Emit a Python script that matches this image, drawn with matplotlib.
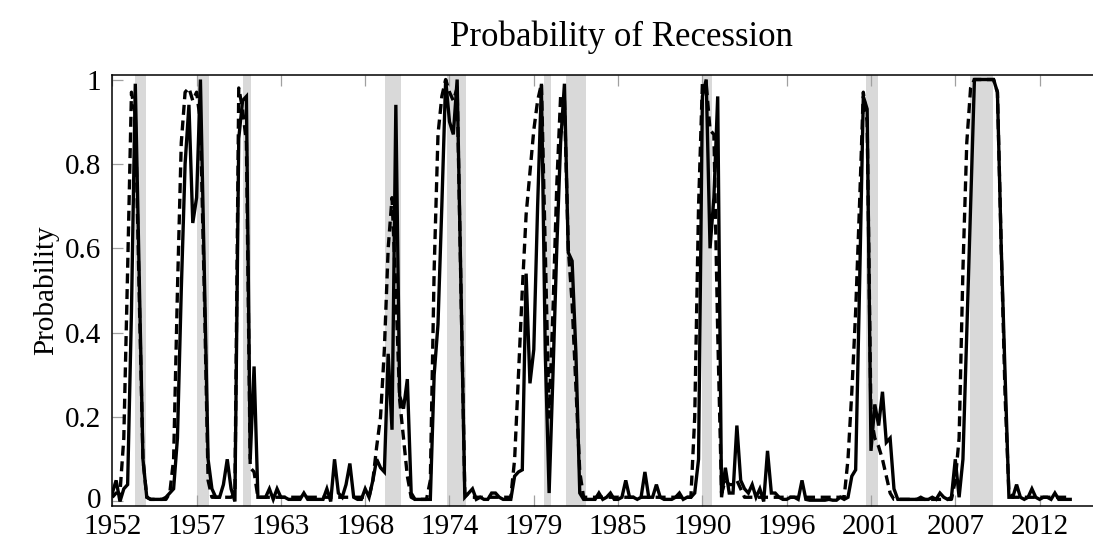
import numpy as np
import matplotlib
matplotlib.use("Agg")
import matplotlib.pyplot as plt

# Quarterly recession probabilities, 1952Q1 onwards
prob_solid = [
    0.02, 0.05, 0.00, 0.03, 0.04, 0.45, 0.99, 0.55, 0.10, 0.01,    # 1952-1954
    0.005, 0.005, 0.005, 0.005, 0.01, 0.02, 0.03, 0.15, 0.50, 0.80,
    0.94, 0.66, 0.72, 1.00, 0.55, 0.10, 0.03, 0.01, 0.01, 0.04,    # 1957-1959
    0.10, 0.03, 0.00, 0.86, 0.95, 0.96, 0.10, 0.32, 0.01, 0.01,
    0.01, 0.03, 0.005, 0.03, 0.01, 0.01, 0.005, 0.005, 0.005, 0.005,
    0.02, 0.005, 0.005, 0.005, 0.005, 0.005, 0.03, 0.00, 0.10, 0.02,
    0.01, 0.04, 0.09, 0.01, 0.005, 0.005, 0.03, 0.01, 0.05, 0.10,  # 1967-1969
    0.08, 0.07, 0.35, 0.17, 0.94, 0.25, 0.22, 0.29, 0.02, 0.005,
    0.005, 0.005, 0.005, 0.005, 0.30, 0.42, 0.70, 1.00, 0.90, 0.87,  # 1972-1974
    1.00, 0.50, 0.01, 0.02, 0.03, 0.005, 0.01, 0.005, 0.005, 0.02,
    0.02, 0.01, 0.005, 0.005, 0.005, 0.06, 0.07, 0.075, 0.54, 0.28,  # 1977-1979
    0.36, 0.70, 0.99, 0.35, 0.02, 0.30, 0.60, 0.85, 0.99, 0.59,
    0.57, 0.35, 0.02, 0.005, 0.005, 0.005, 0.005, 0.02, 0.005, 0.01,  # 1982-1984
    0.02, 0.005, 0.005, 0.01, 0.05, 0.01, 0.01, 0.005, 0.01, 0.07,
    0.01, 0.01, 0.04, 0.01, 0.005, 0.005, 0.005, 0.01, 0.02, 0.005,  # 1987-1989
    0.01, 0.01, 0.02, 0.10, 0.96, 1.00, 0.60, 0.72, 0.96, 0.01,
    0.08, 0.02, 0.02, 0.18, 0.05, 0.03, 0.02, 0.04, 0.01, 0.03,    # 1992-1994
    0.00, 0.12, 0.02, 0.02, 0.01, 0.005, 0.005, 0.01, 0.01, 0.005,
    0.05, 0.005, 0.003, 0.003, 0.003, 0.003, 0.003, 0.005, 0.003, 0.003,  # 1997-1999
    0.01, 0.005, 0.01, 0.06, 0.075, 0.50, 0.96, 0.93, 0.12, 0.23,
    0.18, 0.26, 0.14, 0.15, 0.03, 0.005, 0.005, 0.005, 0.005, 0.005,  # 2002-2004
    0.005, 0.01, 0.005, 0.005, 0.01, 0.005, 0.02, 0.01, 0.005, 0.01,
    0.10, 0.01, 0.10, 0.40, 0.70, 1.00, 1.00, 1.00, 1.00, 1.00,    # 2007-2009
    1.00, 0.97, 0.60, 0.30, 0.01, 0.01, 0.04, 0.01, 0.005, 0.01,
    0.03, 0.01, 0.005, 0.01, 0.01, 0.005, 0.02, 0.005, 0.005, 0.005,  # 2012-2014
    0.005,
]

prob_dashed = [
    0.01, 0.02, 0.02, 0.15, 0.55, 0.97, 0.92, 0.50, 0.10, 0.01,
    0.005, 0.005, 0.005, 0.005, 0.005, 0.02, 0.10, 0.50, 0.85, 0.97,
    0.98, 0.95, 0.97, 0.90, 0.50, 0.05, 0.01, 0.01, 0.01, 0.01,
    0.01, 0.01, 0.02, 0.98, 0.93, 0.85, 0.08, 0.07, 0.01, 0.01,
    0.01, 0.01, 0.01, 0.01, 0.01, 0.01, 0.01, 0.01, 0.01, 0.01,
    0.01, 0.01, 0.01, 0.01, 0.01, 0.01, 0.01, 0.01, 0.01, 0.01,
    0.01, 0.01, 0.01, 0.01, 0.01, 0.01, 0.01, 0.01, 0.05, 0.13,
    0.20, 0.36, 0.60, 0.72, 0.50, 0.24, 0.15, 0.06, 0.01, 0.005,
    0.005, 0.005, 0.005, 0.05, 0.55, 0.87, 0.96, 1.00, 0.97, 0.95,
    0.98, 0.50, 0.02, 0.01, 0.01, 0.01, 0.01, 0.01, 0.01, 0.01,
    0.01, 0.01, 0.01, 0.01, 0.01, 0.10, 0.30, 0.50, 0.68, 0.78,
    0.88, 0.95, 0.99, 0.60, 0.20, 0.45, 0.75, 0.96, 0.95, 0.60,
    0.47, 0.27, 0.07, 0.01, 0.01, 0.01, 0.01, 0.01, 0.01, 0.01,
    0.01, 0.01, 0.01, 0.01, 0.01, 0.01, 0.01, 0.01, 0.01, 0.01,
    0.01, 0.01, 0.01, 0.01, 0.01, 0.01, 0.01, 0.01, 0.01, 0.01,
    0.01, 0.01, 0.20, 0.70, 0.99, 0.99, 0.88, 0.87, 0.40, 0.02,
    0.05, 0.04, 0.04, 0.05, 0.03, 0.01, 0.01, 0.01, 0.01, 0.01,
    0.01, 0.01, 0.01, 0.01, 0.01, 0.01, 0.01, 0.01, 0.01, 0.01,
    0.01, 0.01, 0.01, 0.01, 0.01, 0.01, 0.01, 0.01, 0.01, 0.01,
    0.01, 0.01, 0.10, 0.26, 0.45, 0.70, 0.97, 0.90, 0.20, 0.15,
    0.13, 0.10, 0.06, 0.02, 0.005, 0.005, 0.005, 0.005, 0.005, 0.005,
    0.005, 0.005, 0.005, 0.005, 0.005, 0.005, 0.005, 0.005, 0.005, 0.005,
    0.05, 0.15, 0.55, 0.85, 0.98, 1.00, 1.00, 1.00, 1.00, 1.00,
    1.00, 0.97, 0.60, 0.25, 0.02, 0.01, 0.01, 0.01, 0.01, 0.01,
    0.01, 0.01, 0.01, 0.01, 0.01, 0.01, 0.01, 0.01, 0.01, 0.01,
    0.01,
]

# NBER recession periods (decimal years)
recessions = [
    (1953.47, 1954.23), (1957.53, 1958.29), (1960.53, 1961.06),
    (1969.82, 1970.84), (1973.87, 1975.10), (1980.14, 1980.62),
    (1981.62, 1982.90), (1990.48, 1991.13), (2001.19, 2001.94),
    (2007.93, 2009.47),
]

start_year = 1952
tick_years = [1952 + 5.5 * k for k in range(12)]

years = start_year + np.arange(len(prob_solid)) / 4.0

plt.rcParams['font.family'] = ['Liberation Serif', 'DejaVu Serif']

W, H = 1093, 539
fig = plt.figure(figsize=(W / 100, H / 100), dpi=100)
left, right, top, bottom = 112.3, 1130.0, 75.3, 505.7
ax = fig.add_axes([left / W, 1 - bottom / H, (right - left) / W, (bottom - top) / H])

for a, b in recessions:
    ax.axvspan(a, b, color='#d9d9d9', lw=0, zorder=0)

ax.plot(years, prob_solid, color='black', lw=2.4, solid_joinstyle='miter', zorder=2)
ax.plot(years, prob_dashed, color='black', lw=2.4, linestyle=(0, (3.0, 1.7)), zorder=3)

ax.set_xlim(1952, 2018.4)
ax.set_ylim(-0.01, 1.01)

ax.set_xticks(tick_years)
ax.set_xticklabels([str(int(np.floor(t))) for t in tick_years])
ax.set_yticks([0, 0.2, 0.4, 0.6, 0.8, 1.0])
ax.set_yticklabels(['0', '0.2', '0.4', '0.6', '0.8', '1'])

ax.tick_params(direction='in', length=8, width=0.9, color='#a0a0a0',
               top=True, right=True, labelsize=21)
ax.tick_params(axis='x', pad=6)
ax.tick_params(axis='y', pad=8)
# keep the bottom y label clear of the first year label
ax.get_yticklabels()[0].set_verticalalignment('center')

for s in ax.spines.values():
    s.set_linewidth(1.1)
    s.set_color('black')

ax.set_title('Probability of Recession', fontsize=25, pad=21)
ax.set_ylabel('Probability', fontsize=21)
ax.yaxis.set_label_coords(-0.052, 0.5)

fig.savefig('out.png', dpi=100)
